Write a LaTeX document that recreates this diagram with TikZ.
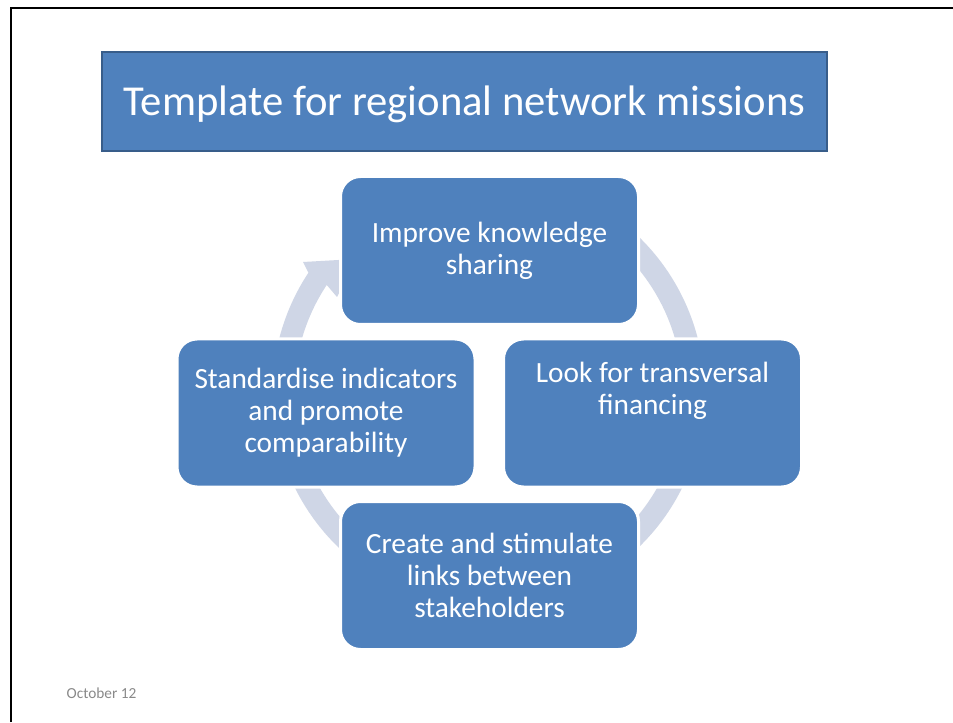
\documentclass[tikz,border=0pt]{standalone}
\usepackage{fontspec}
\setmainfont{Carlito}
\definecolor{boxblue}{RGB}{79,129,189}
\definecolor{titleedge}{RGB}{56,93,138}
\definecolor{ringblue}{RGB}{207,214,230}
\definecolor{dategray}{RGB}{137,137,137}
\begin{document}
\begin{tikzpicture}[x=0.75pt,y=0.75pt,
  stepbox/.style={draw=white, line width=2.25pt, fill=boxblue, rounded corners=15pt,
    minimum width=223.5pt, minimum height=111pt, inner sep=0pt},
  boxtext/.style={text=white, align=center, inner sep=0pt,
    font=\fontsize{22}{24}\selectfont},
  titlebox/.style={draw=titleedge, line width=1.5pt, fill=boxblue,
    minimum width=543.75pt, minimum height=74.25pt, inner sep=0pt},
  titletext/.style={text=white, inner sep=0pt, font=\fontsize{32}{38}\selectfont},
  ring/.style={fill=ringblue}]
\useasboundingbox (0,0) rectangle (953,722);
\fill[white] (0,0) rectangle (953,722);

% slide frame
\draw[black, line width=1.5pt] (11,0) -- (11,714) -- (953,714);

% title
\node[titlebox] (title) at (464.5,620.5) {};
\node[titletext] (titlet) at ([yshift=-2.5pt]title.center) {Template for regional network missions};

% continuous cycle arrow behind the steps
\coordinate (hub) at (488.5,330);
\begin{scope}[shift={(hub)}]
  \fill[ring] (75:216) arc[start angle=75, end angle=-213.5, radius=216]
    -- (-185.5,130) -- (-132.5,133) -- (-151.5,95)
    -- (-213.5:194) arc[start angle=-213.5, end angle=75, radius=194] -- cycle;
\end{scope}

% steps
\node[stepbox] (know) at (489.5,471.5) {};
\node[stepbox] (fin)  at (652.5,309) {};
\node[stepbox] (link) at (489.5,146.5) {};
\node[stepbox] (std)  at (326,309) {};

\node[boxtext] (knowt) at (know.center) {Improve knowledge\\sharing};
\node[boxtext] (fint)  at ([yshift=16.9pt]fin.center) {Look for transversal\\financing};
\node[boxtext] (linkt) at (link.center) {Create and stimulate\\links between\\stakeholders};
\node[boxtext] (stdt)  at (std.center) {Standardise indicators\\and promote\\comparability};

% footer
\node[text=dategray, font=\fontsize{11.5}{13}\selectfont] (date) at (101.5,29) {October 12};
\end{tikzpicture}
\end{document}
